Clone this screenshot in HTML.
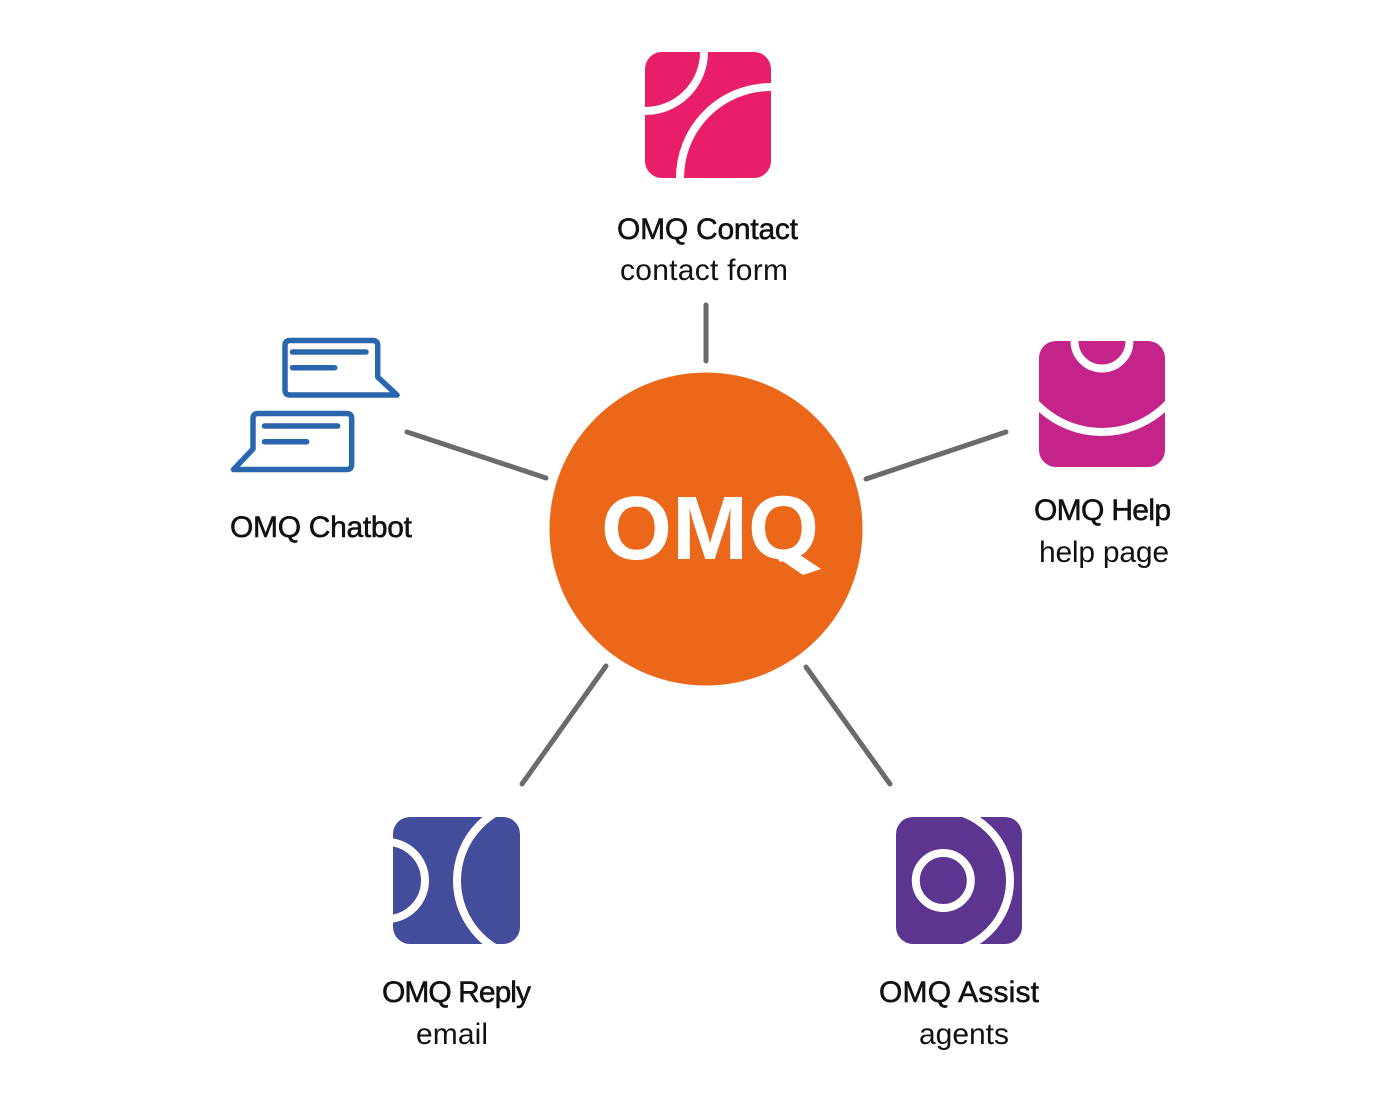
<!DOCTYPE html>
<html lang="en">
<head>
<meta charset="utf-8">
<title>OMQ</title>
<style>
html,body{margin:0;padding:0;background:#fff;width:1400px;height:1100px;overflow:hidden}
svg{display:block}
text{font-family:"Liberation Sans",sans-serif;font-size:30px;fill:#111}
.t{stroke:#111;stroke-width:.55px}
</style>
</head>
<body>
<svg width="1400" height="1100" viewBox="0 0 1400 1100" xmlns="http://www.w3.org/2000/svg">
<defs>
<clipPath id="c1"><rect x="645" y="52" width="126" height="126" rx="17"/></clipPath>
<clipPath id="c2"><rect x="1039" y="341" width="126" height="126" rx="17"/></clipPath>
<clipPath id="c3"><rect x="393" y="817" width="127" height="127" rx="17"/></clipPath>
<clipPath id="c4"><rect x="896" y="817" width="126" height="127" rx="17"/></clipPath>
</defs>
<rect width="1400" height="1100" fill="#fff"/>

<g stroke="#6b6b6b" stroke-width="5" stroke-linecap="round" fill="none">
<line x1="706" y1="305" x2="706" y2="361"/>
<line x1="407" y1="432" x2="546" y2="478"/>
<line x1="1006" y1="432" x2="866" y2="479"/>
<line x1="606" y1="666" x2="522" y2="784"/>
<line x1="806" y1="667" x2="890" y2="784"/>
</g>

<circle cx="706" cy="529" r="156.5" fill="#EB681B"/>
<text x="601" y="559" textLength="218" lengthAdjust="spacingAndGlyphs" style="font-size:90px;font-weight:bold;fill:#fff">OMQ</text>
<rect x="760" y="561.5" width="70" height="20" fill="#EB681B"/>
<polygon points="781,560 797,553 821,569 803,575" fill="#fff"/>

<g clip-path="url(#c1)">
<rect x="645" y="52" width="126" height="126" fill="#E91E6B"/>
<circle cx="645" cy="52" r="59" fill="none" stroke="#fff" stroke-width="8"/>
<circle cx="771" cy="178" r="91" fill="none" stroke="#fff" stroke-width="8"/>
</g>

<g clip-path="url(#c2)">
<rect x="1039" y="341" width="126" height="126" fill="#C4238A"/>
<circle cx="1102" cy="341" r="27.5" fill="none" stroke="#fff" stroke-width="8"/>
<circle cx="1102" cy="341" r="91" fill="none" stroke="#fff" stroke-width="8"/>
</g>

<g clip-path="url(#c3)">
<rect x="393" y="817" width="127" height="127" fill="#434D9C"/>
<circle cx="386.4" cy="880.5" r="38.6" fill="none" stroke="#fff" stroke-width="8"/>
<circle cx="536" cy="880.5" r="79" fill="none" stroke="#fff" stroke-width="8"/>
</g>

<g clip-path="url(#c4)">
<rect x="896" y="817" width="126" height="127" fill="#5B358F"/>
<circle cx="943.3" cy="880.5" r="27.5" fill="none" stroke="#fff" stroke-width="8"/>
<path d="M938 808.5 A72 72 0 0 1 938 952.5" fill="none" stroke="#fff" stroke-width="8"/>
</g>

<g fill="none" stroke="#2A66AE" stroke-width="5.5" stroke-linejoin="round" stroke-linecap="round">
<path d="M377.7 377 L377.7 345.5 Q377.7 340.5 372.7 340.5 L290 340.5 Q285 340.5 285 345.5 L285 390 Q285 395 290 395 L397 395 Z"/>
<line x1="292.5" y1="352" x2="366" y2="352"/>
<line x1="292.5" y1="367.7" x2="334.7" y2="367.7"/>
<path d="M253 449 L253 418.5 Q253 413.5 258 413.5 L346.7 413.5 Q351.7 413.5 351.7 418.5 L351.7 464.5 Q351.7 469.5 346.7 469.5 L233.5 469.5 Z"/>
<line x1="264.5" y1="426" x2="337.7" y2="426"/>
<line x1="264.5" y1="441.7" x2="306.7" y2="441.7"/>
</g>

<text class="t" x="617" y="239" textLength="181">OMQ Contact</text>
<text x="620" y="280" textLength="168">contact form</text>
<text class="t" x="1034" y="520" textLength="137">OMQ Help</text>
<text x="1039" y="562" textLength="130">help page</text>
<text class="t" x="230" y="537" textLength="182">OMQ Chatbot</text>
<text class="t" x="382" y="1002" textLength="149">OMQ Reply</text>
<text x="416" y="1044" textLength="72">email</text>
<text class="t" x="879" y="1002" textLength="160">OMQ Assist</text>
<text x="919" y="1044" textLength="90">agents</text>
</svg>
</body>
</html>
